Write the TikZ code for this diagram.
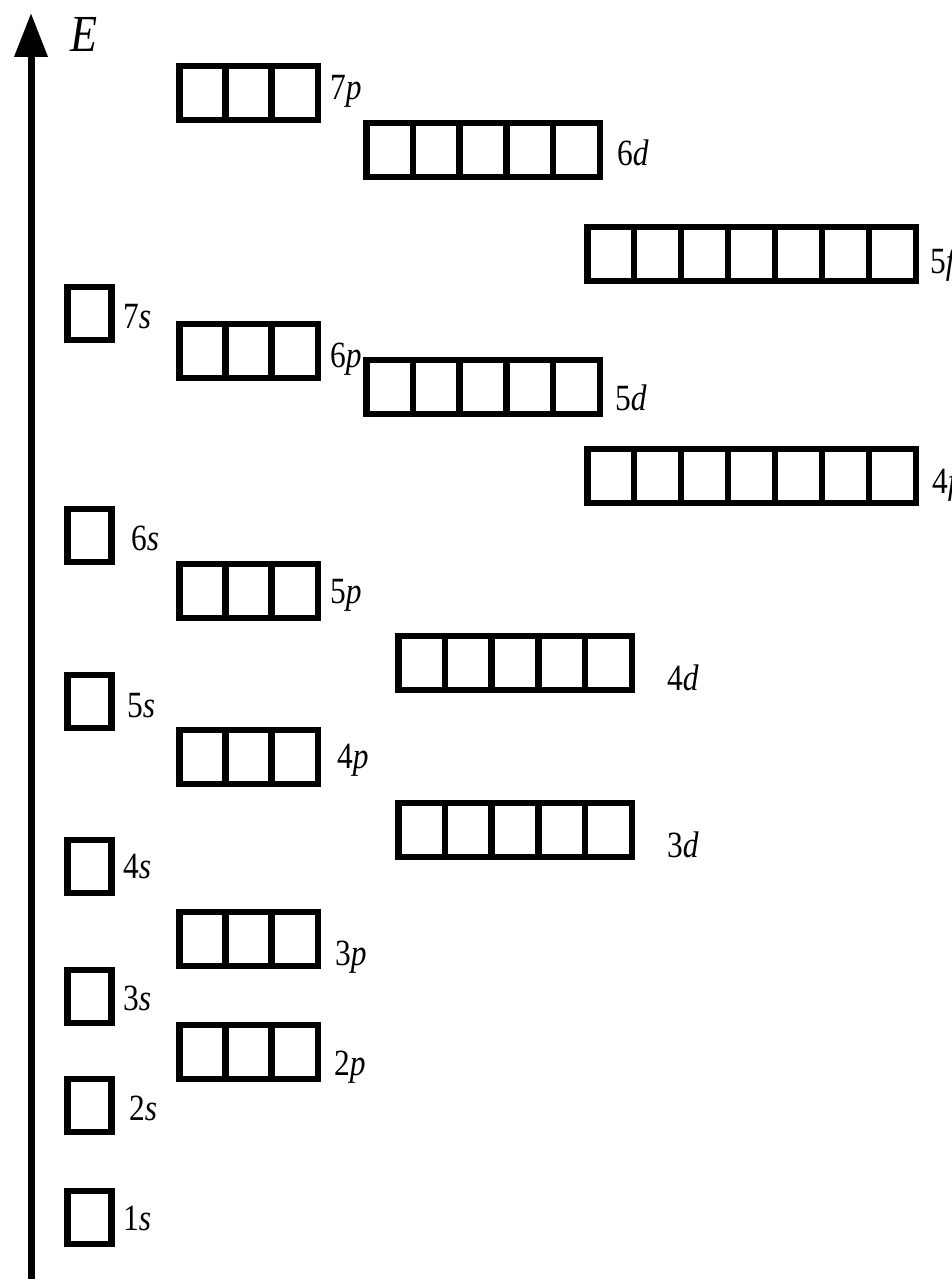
\documentclass[tikz,border=0pt]{standalone}
\usepackage{fontspec}
\setmainfont{Liberation Serif}[FakeStretch=0.85]
\usepackage{xcolor}
\usepackage{tikz}
\usetikzlibrary{arrows.meta}
\definecolor{OrbitalInk}{HTML}{000000}

\tikzset{
  cellbox/.style={draw=OrbitalInk, line width=6.5pt},
  orblabel/.style={anchor=base west, inner sep=0pt, text=OrbitalInk, font=\fontsize{37}{40}\selectfont},
}

\begin{document}
\begin{tikzpicture}[x=1pt, y=-1pt]
    \useasboundingbox (0,0) rectangle (952,1279);
    % Energy axis
    \coordinate (axisfoot) at (31,1279);
    \coordinate (axistop) at (31,13);
    \draw[OrbitalInk, line width=7pt, -{Triangle[length=44pt, width=32pt]}] (axisfoot) -- (axistop);
    \node[orblabel, font=\fontsize{52}{56}\selectfont] (energy) at (70,52) {\textit{E}};
    % s orbitals
    \foreach \n/\y/\lx/\ly in {1/1191/123/1230, 2/1079/129/1120, 3/970/123/1010, 4/840/123/878,
                               5/675/127/717, 6/509/131/550, 7/287/123/328} {
      \draw[cellbox] (67.25,\y) rectangle ++(44,53);
      \node[orblabel] (s\n) at (\lx,\ly) {\n\textit{s}};
    }
    % p orbitals
    \foreach \n/\y/\lx/\ly in {2/1025/334/1075, 3/912/335/965, 4/730/337/768,
                               5/564/330/603, 6/324/330/367, 7/66/330/100} {
      \foreach \k in {0,1,2}
        \draw[cellbox] (179.25+\k*46.2,\y) rectangle ++(46.2,54);
      \node[orblabel] (p\n) at (\lx,\ly) {\n\textit{p}};
    }
    % d orbitals
    \foreach \n/\x/\y/\lx/\ly in {3/398.25/803/667/857, 4/398.25/636/667/690,
                                  5/366.25/360/615/410, 6/366.25/123/617/165} {
      \foreach \k in {0,...,4}
        \draw[cellbox] (\x+\k*46.7,\y) rectangle ++(46.7,54);
      \node[orblabel] (d\n) at (\lx,\ly) {\n\textit{d}};
    }
    % f orbitals
    \foreach \n/\y/\lx/\ly in {4/449/932/493, 5/227/930/273} {
      \foreach \k in {0,...,6}
        \draw[cellbox] (587.25+\k*46.93,\y) rectangle ++(46.93,54);
      \node[orblabel] (f\n) at (\lx,\ly) {\n\textit{f}};
    }
\end{tikzpicture}
\end{document}
